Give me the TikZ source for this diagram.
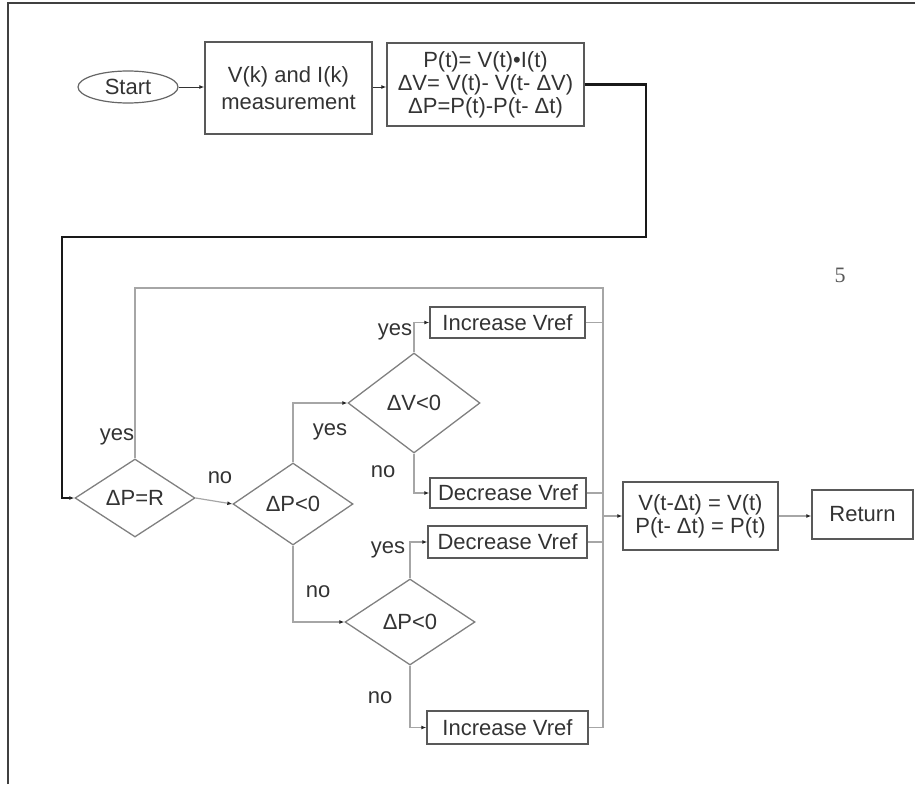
\documentclass[tikz,border=0pt]{standalone}
\usepackage{fontspec}
\setmainfont{Liberation Sans}
\newfontfamily\serifnum{Liberation Serif}
\usetikzlibrary{shapes.geometric,arrows.meta}
\begin{document}
\begin{tikzpicture}[x=1pt,y=-1pt,
  every node/.style={font=\fontsize{22}{23}\selectfont, text=black!80},
  box/.style={draw=black!65, line width=1.4pt, inner sep=0pt, align=center},
  dia/.style={draw=black!50, line width=1.3pt, diamond, inner sep=0pt},
  ell/.style={draw=black!60, line width=1.2pt, ellipse, inner sep=0pt, minimum width=100pt, minimum height=32pt},
  gline/.style={draw=black!35, line width=1.2pt},
  dline/.style={draw=black!80, line width=1pt},
  arr/.style={-{Latex[length=5pt,width=4pt,color=black!85]}},
  lab/.style={inner sep=0pt},
  heavy/.style={draw=black!90, line width=2.2pt}
]
\useasboundingbox (0,0) rectangle (915,784);
\draw[draw=black!75, line width=2.5pt] (8,784) -- (8,3) -- (915,3);

\node[ell] (start) at (128,87) {Start};
\node[box, minimum width=167pt, minimum height=92pt] (meas) at (288.5,88) {V(k) and I(k)\\[4pt]measurement};
\node[box, minimum width=197pt, minimum height=83pt] (calc) at (485.5,84.5) {P(t)= V(t)•I(t)\\ΔV= V(t)- V(t- ΔV)\\ΔP=P(t)-P(t- Δt)};

\node[dia, minimum width=120pt, minimum height=78pt] (dpr) at (135,498) {ΔP=R};
\node[dia, minimum width=120pt, minimum height=82pt] (dp1) at (293,504) {ΔP<0};
\node[dia, minimum width=132pt, minimum height=100pt] (dv) at (414,403) {ΔV<0};
\node[dia, minimum width=130pt, minimum height=86pt] (dp2) at (410,622) {ΔP<0};

\node[box, minimum width=155pt, minimum height=31pt] (inc1) at (507.5,322.5) {Increase Vref};
\node[box, minimum width=156pt, minimum height=30pt] (dec1) at (508,493) {Decrease Vref};
\node[box, minimum width=159pt, minimum height=32pt] (dec2) at (507.5,542) {Decrease Vref};
\node[box, minimum width=161pt, minimum height=33pt] (inc2) at (507.5,727.5) {Increase Vref};
\node[box, minimum width=155pt, minimum height=68pt] (upd) at (700.5,516) {V(t-Δt) = V(t)\\P(t- Δt) = P(t)};
\node[box, minimum width=101pt, minimum height=49pt] (ret) at (862.5,514.5) {Return};

\coordinate (c1) at (646,237);
\coordinate (c2) at (62,237);
\coordinate (bus) at (603,288);
\coordinate (busend) at (603,727.5);

\draw[dline, arr] (start.east) -- (start.east -| meas.west);
\draw[dline, arr] (meas.east |- start.east) -- (meas.east |- start.east -| calc.west);
\draw[heavy, arr] (calc.east) -| (c1) -- (c2) |- (dpr.west);

\draw[gline] (dpr.north) |- (bus) -- (busend);
\draw[gline, arr] (dpr.east) -- (dp1.west);
\draw[gline, arr] (dp1.north) |- (dv.west);
\draw[gline, arr] (dv.north) |- (inc1.west);
\draw[gline, arr] (dv.south) |- (dec1.west);
\draw[gline, arr] (dp1.south) |- (dp2.west);
\draw[gline, arr] (dp2.north) |- (dec2.west);
\draw[gline, arr] (dp2.south) |- (inc2.west);
\draw[gline] (inc1.east) -- (inc1.east -| bus);
\draw[gline] (dec1.east) -- (dec1.east -| bus);
\draw[gline] (dec2.east) -- (dec2.east -| bus);
\draw[gline] (inc2.east) -- (inc2.east -| bus);
\draw[gline, arr] (upd.west -| bus) -- (upd.west);
\draw[gline, arr] (upd.east) -- (upd.east -| ret.west);

\node[lab] (y0) at (117,437) {yes};
\node[lab] (n0) at (220,478) {no};
\node[lab] (y1) at (330,432) {yes};
\node[lab] (y2) at (395,332) {yes};
\node[lab] (n1) at (383,472) {no};
\node[lab] (n2) at (318,592) {no};
\node[lab] (y3) at (388,550) {yes};
\node[lab] (n3) at (380,698) {no};
\node[font=\serifnum\fontsize{22}{22}\selectfont, text=black!65] (pg) at (840,275) {5};
\end{tikzpicture}
\end{document}
